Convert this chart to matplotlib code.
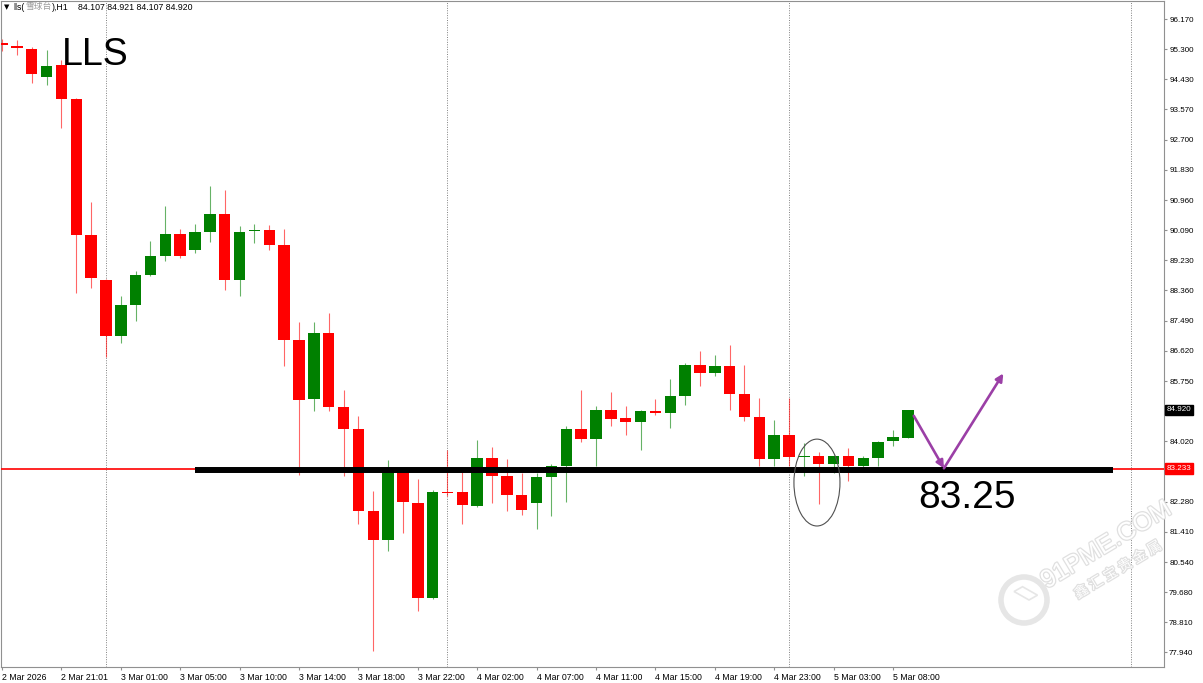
import numpy as np
import matplotlib.pyplot as plt
from matplotlib.patches import Ellipse, Rectangle
from matplotlib import patheffects, transforms

# hourly OHLC, bar 0 = 2 Mar 2026
opens = [95.47, 95.40, 95.31, 94.51, 94.84, 93.86, 89.96, 88.66, 87.05, 87.95,
         88.81, 89.34, 89.98, 89.53, 90.05, 90.56, 88.66, 90.06, 90.10, 89.67,
         86.92, 85.24, 87.13, 85.00, 84.36, 82.01, 81.19, 83.16, 82.24, 79.51,
         82.56, 82.55, 82.15, 83.54, 83.03, 82.46, 82.24, 82.99, 83.30, 84.37,
         84.07, 84.93, 84.69, 84.57, 84.88, 84.83, 85.31, 86.22, 85.98, 86.19,
         85.38, 84.72, 83.52, 84.21, 83.57, 83.60, 83.35, 83.60, 83.30, 83.55,
         84.02, 84.107]
highs = [95.60, 95.57, 95.37, 95.28, 94.99, 93.90, 90.89, 88.70, 88.21, 88.93,
         89.77, 90.79, 90.12, 90.28, 91.35, 91.25, 90.20, 90.28, 90.25, 90.12,
         87.44, 87.44, 87.71, 85.50, 84.74, 82.58, 83.49, 83.22, 82.92, 82.63,
         83.78, 83.13, 84.06, 83.84, 83.51, 83.11, 83.11, 83.35, 84.45, 85.50,
         85.02, 85.45, 85.04, 84.92, 85.24, 85.81, 86.27, 86.63, 86.51, 86.80,
         86.22, 85.26, 84.64, 85.26, 83.97, 83.70, 83.62, 83.83, 83.58, 84.02,
         84.35, 84.921]
lows = [95.25, 95.13, 94.32, 94.27, 93.04, 88.29, 88.43, 86.45, 86.86, 87.49,
        88.76, 89.22, 89.30, 89.43, 89.74, 88.38, 88.19, 89.72, 89.53, 86.17,
        83.06, 84.88, 84.90, 83.01, 81.65, 77.97, 80.85, 81.39, 79.13, 79.48,
        82.44, 81.65, 82.12, 82.24, 82.01, 81.91, 81.50, 81.88, 82.26, 84.00,
        83.32, 84.45, 84.21, 83.76, 84.76, 84.40, 85.07, 85.62, 85.91, 84.93,
        84.59, 83.30, 83.30, 83.30, 83.03, 82.22, 83.11, 82.87, 83.16, 83.30,
        83.89, 84.107]
closes = [95.43, 95.33, 94.58, 94.82, 93.86, 89.96, 88.71, 87.05, 87.95, 88.81,
          89.34, 89.98, 89.34, 90.04, 90.56, 88.66, 90.05, 90.10, 89.67, 86.94,
          85.22, 87.13, 85.00, 84.36, 82.01, 81.19, 83.16, 82.26, 79.51, 82.55,
          82.53, 82.18, 83.54, 83.03, 82.46, 82.05, 82.98, 83.30, 84.37, 84.07,
          84.93, 84.67, 84.56, 84.88, 84.83, 85.33, 86.20, 85.98, 86.19, 85.38,
          84.72, 83.52, 84.21, 83.57, 83.60, 83.35, 83.58, 83.30, 83.54, 84.00,
          84.14, 84.920]

time_idx = [0, 4, 8, 12, 16, 20, 24, 28, 32, 36, 40, 44, 48, 52, 56, 60]
time_labels = ['2 Mar 2026', '2 Mar 21:01', '3 Mar 01:00', '3 Mar 05:00',
               '3 Mar 10:00', '3 Mar 14:00', '3 Mar 18:00', '3 Mar 22:00',
               '4 Mar 02:00', '4 Mar 07:00', '4 Mar 11:00', '4 Mar 15:00',
               '4 Mar 19:00', '4 Mar 23:00', '5 Mar 03:00', '5 Mar 08:00']
price_ticks = [96.170, 95.300, 94.430, 93.570, 92.700, 91.830, 90.960, 90.090,
               89.230, 88.360, 87.490, 86.620, 85.750, 84.020, 82.280, 81.410,
               80.540, 79.680, 78.810, 77.940]
day_breaks = [7, 30, 53, 76]
last_price = 84.920
line_price = 83.233
support_level = 83.20
support_from, support_to = 13.0, 74.8
arrow_x = [61.4, 63.43, 67.43]
arrow_y = [84.75, 83.24, 85.97]

fig = plt.figure(figsize=(12.03, 6.83), dpi=100)
ax = fig.add_axes([1 / 1203, 16 / 683, 1163 / 1203, 666 / 683])
ax.set_xlim(-0.067, 78.25)
ax.set_ylim(77.522, 96.688)

# candles
x = np.arange(len(opens))
o = np.array(opens)
c = np.array(closes)
cols = np.where(c >= o, '#008000', '#ff0000')
ax.vlines(x, lows, highs, colors=cols, lw=0.8, alpha=0.6, zorder=2)
ax.bar(x, np.maximum(np.abs(c - o), 0.035), bottom=np.minimum(o, c),
       width=0.77, color=cols, linewidth=0, zorder=3)

# day separators
for d in day_breaks:
    ax.axvline(d, color='#808080', lw=0.7, ls=(0, (1, 1.5)), zorder=1)

# current price line + hand drawn support
ax.axhline(line_price, color='#ff0000', lw=1.2, zorder=4)
ax.plot([support_from, support_to], [support_level, support_level],
        color='black', lw=4.3, solid_capstyle='butt', zorder=5)

# purple arrows
for k in range(2):
    ax.annotate('', xy=(arrow_x[k + 1], arrow_y[k + 1]), xytext=(arrow_x[k], arrow_y[k]),
                arrowprops=dict(arrowstyle='-|>', color='#9b3fa6', lw=1.9,
                                mutation_scale=11, shrinkA=0, shrinkB=0), zorder=6)

ax.add_patch(Ellipse((54.88, 82.83), 3.1, 2.5, fill=False, ec='#505050', lw=0.8, zorder=6))

ax.text(4.04, 94.846, 'LLS', fontsize=27, family='Liberation Sans', va='baseline', zorder=7)
ax.text(61.68, 82.098, '83.25', fontsize=28, family='Liberation Sans', va='baseline', zorder=7)

# axes styling
for s in ax.spines.values():
    s.set_color('#909090')
    s.set_linewidth(0.8)
ax.yaxis.tick_right()
ax.set_yticks(price_ticks)
ax.set_yticklabels(['%.3f' % p for p in price_ticks])
ax.set_xticks(time_idx)
ax.set_xticklabels(time_labels, ha='left')
ax.tick_params(axis='y', length=2.2, pad=1.5, color='#909090', labelsize=5.8)
ax.tick_params(axis='x', length=2.2, pad=2, color='#909090', labelsize=6.3)
for t in ax.get_xticklabels() + ax.get_yticklabels():
    t.set_family('Liberation Sans')

trans = transforms.blended_transform_factory(ax.transAxes, ax.transData)
ax.text(1.0026, last_price, '%.3f' % last_price, transform=trans, fontsize=5.8,
        family='Liberation Sans', color='white', va='center', ha='left',
        bbox=dict(boxstyle='square,pad=0.2', fc='black', ec='black'), clip_on=False)
ax.text(1.0026, line_price, '%.3f' % line_price, transform=trans, fontsize=5.8,
        family='Liberation Sans', color='white', va='center', ha='left',
        bbox=dict(boxstyle='square,pad=0.2', fc='#ff0000', ec='#ff0000'), clip_on=False)

# header line
hy = 1 - 7 / 683
fig.text(4 / 1203, hy, '\u25bc', fontsize=5, family='DejaVu Sans', va='center')
fig.text(13 / 1203, hy, 'lls(', fontsize=6.3, family='Liberation Sans', va='center')
fig.text(25 / 1203, hy, '雪球台', fontsize=6.3, family='Noto Sans CJK SC', color='#9a9a9a', va='center')
fig.text(52 / 1203, hy, '),H1', fontsize=6.3, family='Liberation Sans', va='center')
fig.text(78 / 1203, hy, '84.107 84.921 84.107 84.920', fontsize=6.3,
         family='Liberation Sans', va='center')

# faint watermark bottom right
pe = [patheffects.withStroke(linewidth=1.8, foreground='#e0e0e0')]
fig.text(1106 / 1203, 1 - 545 / 683, '91PME.COM', fontsize=18, family='Liberation Sans',
         color='white', rotation=31, ha='center', va='center', rotation_mode='anchor',
         path_effects=pe, zorder=8)
fig.text(1118 / 1203, 1 - 570 / 683, '鑫 汇 宝 贵 金 属', fontsize=10,
         family='Noto Sans CJK SC', color='white', rotation=31, ha='center', va='center',
         rotation_mode='anchor', path_effects=pe, zorder=8)
fig.patches.append(Ellipse((1024 / 1203, 1 - 600 / 683), 46 / 1203, 46 / 683,
                           transform=fig.transFigure, fill=False, ec='#e6e6e6', lw=4))
fig.patches.append(Rectangle((1029 / 1203, 1 - 600 / 683), 12 / 1203, 12 / 683,
                             angle=45, transform=fig.transFigure, fc='white', ec='#e6e6e6', lw=1.2))

fig.savefig('out.png', dpi=100)
